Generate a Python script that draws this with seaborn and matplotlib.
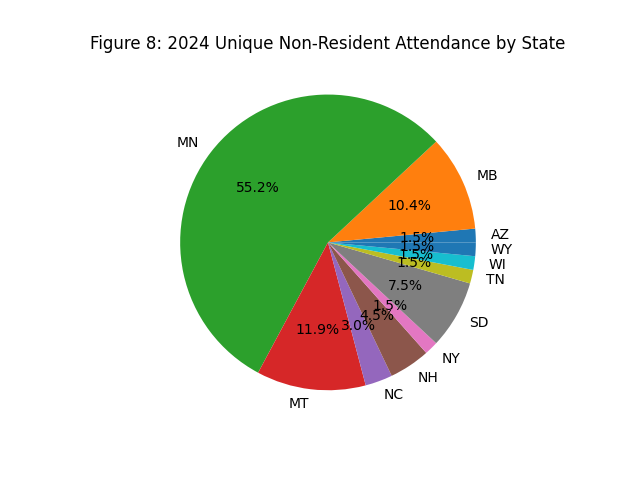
import matplotlib
matplotlib.use("Agg")
import matplotlib.pyplot as plt
import seaborn as sns

# unique non-resident attendees per state (counts, 67 total)
states = ['AZ', 'MB', 'MN', 'MT', 'NC', 'NH', 'NY', 'SD', 'TN', 'WI', 'WY']
counts = [1, 7, 37, 8, 2, 3, 1, 5, 1, 1, 1]

colors = sns.color_palette('tab10', 10)

fig, ax = plt.subplots(figsize=(6.4, 4.8), dpi=100)
ax.pie(counts, labels=states, autopct='%1.1f%%', colors=colors)
ax.set_title('Figure 8: 2024 Unique Non-Resident Attendance by State')

fig.savefig('out.png')
